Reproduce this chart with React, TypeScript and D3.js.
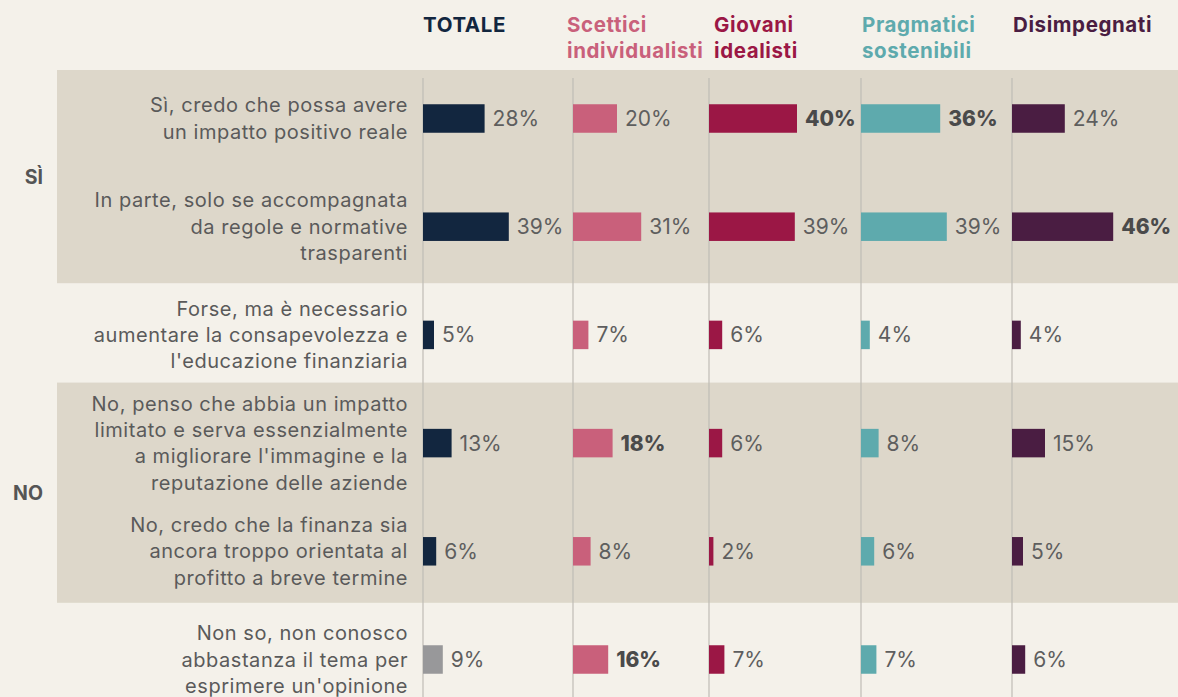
import React from "react";
import * as d3 from "d3";

const rowLabels: string[][] = [
  ["Sì, credo che possa avere", "un impatto positivo reale"],
  ["In parte, solo se accompagnata", "da regole e normative", "trasparenti"],
  ["Forse, ma è necessario", "aumentare la consapevolezza e", "l'educazione finanziaria"],
  ["No, penso che abbia un impatto", "limitato e serva essenzialmente", "a migliorare l'immagine e la", "reputazione delle aziende"],
  ["No, credo che la finanza sia", "ancora troppo orientata al", "profitto a breve termine"],
  ["Non so, non conosco", "abbastanza il tema per", "esprimere un'opinione"],
];

const segmentNames: string[][] = [
  ["TOTALE"],
  ["Scettici", "individualisti"],
  ["Giovani", "idealisti"],
  ["Pragmatici", "sostenibili"],
  ["Disimpegnati"],
];

const totale = [28, 39, 5, 13, 6, 9];
const scettici = [20, 31, 7, 18, 8, 16];
const giovani = [40, 39, 6, 6, 2, 7];
const pragmatici = [36, 39, 4, 8, 6, 7];
const disimpegnati = [24, 46, 4, 15, 5, 6];
const seriesValues = [totale, scettici, giovani, pragmatici, disimpegnati];

// [segment index, row index] of highlighted (bold) values
const boldCells: [number, number][] = [
  [2, 0],
  [3, 0],
  [4, 1],
  [1, 3],
  [1, 5],
];

const groups = [
  { label: "SÌ", rows: [0, 1] },
  { label: "NO", rows: [3, 4] },
];

// styling
const segColors = ["#12263f", "#c9607b", "#9b1745", "#5eaaad", "#4a1d42"];
const noOpinionColor = "#98989a";
const BG = "#f4f1ea";
const BAND = "#ddd7ca";
const TEXT = "#5a5a5a";
const W = 1178;
const H = 697;
const colX = [423, 573, 709, 861, 1012];
const headerDx = [0, -6, 5, 1, 1];
const groupPad = [
  { top: 48.5, bottom: 56.5 },
  { top: 60.5, bottom: 51.5 },
];
const FONT = "Inter, 'Noto Sans', sans-serif";

export default function App() {
  const rowIdx = rowLabels.map((_, i) => i);
  const y = d3.scalePoint<number>().domain(rowIdx).range([118.5, 659.5]);
  const x = d3.scaleLinear().domain([0, 100]).range([0, 220]);
  const barH = 28.5;
  const lineH = 26.3;
  const isBold = (s: number, r: number) => boldCells.some(([a, b]) => a === s && b === r);

  return (
    <svg
      width={W}
      height={H}
      style={{ position: "absolute", left: 0, top: 0, display: "block", background: BG }}
      fontFamily={FONT}
    >
      <rect x={0} y={0} width={W} height={H} fill={BG} />
      {groups.map((g, gi) => {
        const top = (y(g.rows[0]) as number) - groupPad[gi].top;
        const bottom = (y(g.rows[g.rows.length - 1]) as number) + groupPad[gi].bottom;
        return (
          <g key={g.label}>
            <rect x={57} y={top} width={W - 57} height={bottom - top} fill={BAND} />
            <text
              x={43}
              y={(top + bottom) / 2}
              textAnchor="end"
              dominantBaseline="central"
              fontSize={19.5}
              fontWeight={700}
              fill="#555"
            >
              {g.label}
            </text>
          </g>
        );
      })}
      {colX.map((cx, i) => (
        <line key={"l" + i} x1={cx} x2={cx} y1={78} y2={H} stroke="#bfbcb5" strokeWidth={1.2} />
      ))}
      {segmentNames.map((lines, s) => (
        <text
          key={"h" + s}
          x={colX[s] + headerDx[s]}
          y={31.5}
          fontSize={20.5}
          fontWeight={700}
          letterSpacing={0.6}
          fill={segColors[s]}
        >
          {lines.map((ln, k) => (
            <tspan key={k} x={colX[s] + headerDx[s]} dy={k === 0 ? 0 : 26.5}>
              {ln}
            </tspan>
          ))}
        </text>
      ))}
      {rowLabels.map((lines, r) => {
        const cy = y(r) as number;
        const start = cy - ((lines.length - 1) * lineH) / 2;
        return (
          <text key={"r" + r} textAnchor="end" fontSize={20} fill={TEXT} letterSpacing={0.55}>
            {lines.map((ln, k) => (
              <tspan key={k} x={408} y={start + k * lineH} dominantBaseline="central">
                {ln}
              </tspan>
            ))}
          </text>
        );
      })}
      {seriesValues.map((vals, s) =>
        vals.map((v, r) => {
          const cy = y(r) as number;
          const w = x(v);
          const fill = s === 0 && r === rowLabels.length - 1 ? noOpinionColor : segColors[s];
          const bold = isBold(s, r);
          return (
            <g key={`b${s}-${r}`}>
              <rect x={colX[s]} y={cy - barH / 2} width={w} height={barH} fill={fill} />
              <text
                x={colX[s] + w + 8}
                y={cy}
                dominantBaseline="central"
                fontSize={21}
                fontWeight={bold ? 800 : 400}
                fill={bold ? "#4a4a4a" : "#5e5e5e"}
              >
                {v}%
              </text>
            </g>
          );
        })
      )}
    </svg>
  );
}
